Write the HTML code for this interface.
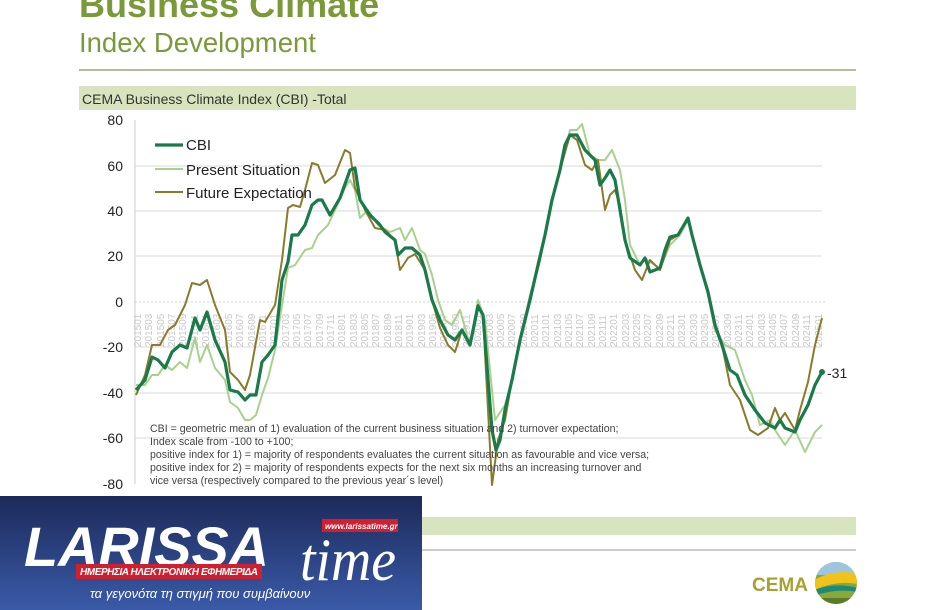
<!DOCTYPE html>
<html><head><meta charset="utf-8"><style>
body{margin:0;width:940px;height:610px;overflow:hidden;background:#fff;font-family:"Liberation Sans",sans-serif;position:relative}
.t1{position:absolute;left:79px;top:-16px;font-size:36px;font-weight:bold;color:#7a9a3a}
.t2{position:absolute;left:79px;top:27px;font-size:27.5px;color:#7a9a3a}
</style></head><body>
<div class="t1">Business Climate</div>
<div class="t2">Index Development</div>
<svg width="940" height="610" style="position:absolute;left:0;top:0">
<line x1="79" y1="70" x2="856" y2="70" stroke="#b5bd9a" stroke-width="2"/>
<rect x="79" y="86" width="777" height="24" fill="#d7e4bd"/>
<text x="82" y="104" font-size="14" fill="#333">CEMA Business Climate Index (CBI) -Total</text>
<rect x="79" y="517" width="777" height="18" fill="#d7e4bd"/>
<line x1="79" y1="550" x2="856" y2="550" stroke="#bbb" stroke-width="1.5"/>
<g stroke="#d9d9d9" stroke-width="1">
<line x1="135" y1="166" x2="822" y2="166"/><line x1="135" y1="211" x2="822" y2="211"/><line x1="135" y1="256" x2="822" y2="256"/><line x1="135" y1="347" x2="822" y2="347"/><line x1="135" y1="393" x2="822" y2="393"/><line x1="135" y1="438" x2="822" y2="438"/>
</g>
<line x1="135" y1="302" x2="825" y2="302" stroke="#ccc" stroke-dasharray="2,2"/>
<line x1="135" y1="120" x2="135" y2="484" stroke="#ccc"/>
<g font-size="14" fill="#222" text-anchor="end">
<text x="123" y="125">80</text><text x="123" y="171">60</text><text x="123" y="216">40</text><text x="123" y="261">20</text><text x="123" y="307">0</text><text x="123" y="352">-20</text><text x="123" y="398">-40</text><text x="123" y="443">-60</text><text x="123" y="489">-80</text>
</g>
<g font-size="10" fill="#c8c8c8">
<text transform="translate(141,347) rotate(-90)">201501</text><text transform="translate(152,347) rotate(-90)">201503</text><text transform="translate(164,347) rotate(-90)">201505</text><text transform="translate(175,347) rotate(-90)">201507</text><text transform="translate(186,347) rotate(-90)">201509</text><text transform="translate(198,347) rotate(-90)">201511</text>
<text transform="translate(209,347) rotate(-90)">201601</text><text transform="translate(220,347) rotate(-90)">201603</text><text transform="translate(232,347) rotate(-90)">201605</text><text transform="translate(243,347) rotate(-90)">201607</text><text transform="translate(255,347) rotate(-90)">201609</text><text transform="translate(266,347) rotate(-90)">201611</text>
<text transform="translate(277,347) rotate(-90)">201701</text><text transform="translate(289,347) rotate(-90)">201703</text><text transform="translate(300,347) rotate(-90)">201705</text><text transform="translate(311,347) rotate(-90)">201707</text><text transform="translate(323,347) rotate(-90)">201709</text><text transform="translate(334,347) rotate(-90)">201711</text>
<text transform="translate(345,347) rotate(-90)">201801</text><text transform="translate(357,347) rotate(-90)">201803</text><text transform="translate(368,347) rotate(-90)">201805</text><text transform="translate(379,347) rotate(-90)">201807</text><text transform="translate(391,347) rotate(-90)">201809</text><text transform="translate(402,347) rotate(-90)">201811</text>
<text transform="translate(413,347) rotate(-90)">201901</text><text transform="translate(425,347) rotate(-90)">201903</text><text transform="translate(436,347) rotate(-90)">201905</text><text transform="translate(447,347) rotate(-90)">201907</text><text transform="translate(459,347) rotate(-90)">201909</text><text transform="translate(470,347) rotate(-90)">201911</text>
<text transform="translate(481,347) rotate(-90)">202001</text><text transform="translate(493,347) rotate(-90)">202003</text><text transform="translate(504,347) rotate(-90)">202005</text><text transform="translate(515,347) rotate(-90)">202007</text><text transform="translate(527,347) rotate(-90)">202009</text><text transform="translate(538,347) rotate(-90)">202011</text>
<text transform="translate(549,347) rotate(-90)">202101</text><text transform="translate(561,347) rotate(-90)">202103</text><text transform="translate(572,347) rotate(-90)">202105</text><text transform="translate(583,347) rotate(-90)">202107</text><text transform="translate(595,347) rotate(-90)">202109</text><text transform="translate(606,347) rotate(-90)">202111</text>
<text transform="translate(617,347) rotate(-90)">202201</text><text transform="translate(629,347) rotate(-90)">202203</text><text transform="translate(640,347) rotate(-90)">202205</text><text transform="translate(651,347) rotate(-90)">202207</text><text transform="translate(663,347) rotate(-90)">202209</text><text transform="translate(674,347) rotate(-90)">202211</text>
<text transform="translate(685,347) rotate(-90)">202301</text><text transform="translate(697,347) rotate(-90)">202303</text><text transform="translate(708,347) rotate(-90)">202305</text><text transform="translate(719,347) rotate(-90)">202307</text><text transform="translate(731,347) rotate(-90)">202309</text><text transform="translate(742,347) rotate(-90)">202311</text>
<text transform="translate(753,347) rotate(-90)">202401</text><text transform="translate(765,347) rotate(-90)">202403</text><text transform="translate(776,347) rotate(-90)">202405</text><text transform="translate(787,347) rotate(-90)">202407</text><text transform="translate(799,347) rotate(-90)">202409</text><text transform="translate(810,347) rotate(-90)">202411</text>
<text transform="translate(822,347) rotate(-90)">202501</text>
</g>
<g fill="none" stroke-linejoin="round">
<polyline stroke="#a9d18e" stroke-width="2" points="136,385 145,385 152,375 158,375 165,365 172,370 180,362 187,368 195,338 200,362 207,345 215,368 225,380 230,402 238,408 245,420 250,420 256,415 262,395 268,378 275,350 282,305 288,268 295,265 305,250 312,248 318,235 328,225 335,210 345,188 350,180 355,190 360,218 368,210 378,225 390,232 400,228 405,240 412,228 420,250 425,254 432,275 438,300 445,320 452,325 460,310 470,345 478,300 485,320 495,420 505,405 512,380 520,340 530,295 540,260 550,210 560,170 570,130 577,130 582,124 590,155 598,160 605,160 612,150 620,170 625,200 630,245 640,265 645,258 650,262 660,268 670,245 680,235 688,220 695,245 700,265 708,295 715,330 725,345 735,350 745,380 752,395 760,425 770,420 775,430 785,445 795,430 805,452 815,432 822,425"/>
<polyline stroke="#8a7a2c" stroke-width="2" points="136,395 145,375 152,345 160,345 168,330 175,325 185,305 192,283 200,285 207,280 215,305 225,330 230,372 238,380 245,390 250,375 260,320 265,322 275,305 282,260 288,208 293,205 300,207 305,190 312,163 318,165 325,183 335,175 345,150 350,153 355,188 365,210 375,228 385,230 395,240 400,270 408,258 415,254 425,270 432,300 440,328 448,345 455,352 462,330 470,345 478,305 483,315 492,485 498,440 505,420 512,380 520,340 525,320 530,300 540,260 550,210 560,170 570,135 577,140 585,165 592,170 598,160 605,210 610,195 615,190 620,205 625,240 635,270 642,280 650,260 660,270 670,240 678,235 688,218 692,235 700,265 708,292 715,325 722,345 730,385 740,400 750,430 758,435 768,428 775,408 780,420 785,413 795,430 800,410 808,382 815,345 822,318"/>
<polyline stroke="#1a7a4a" stroke-width="3.2" points="136,390 145,380 152,357 158,360 165,368 172,352 180,345 187,348 195,318 200,330 207,312 215,340 225,362 230,390 238,392 245,400 250,395 256,395 262,362 268,355 275,345 282,280 288,262 292,235 298,235 305,225 312,205 318,200 322,200 330,215 340,198 350,170 355,168 360,200 370,215 380,225 385,232 395,240 398,255 405,248 412,248 420,255 425,270 432,300 440,320 448,335 455,340 462,330 470,345 478,306 483,315 492,430 496,450 500,440 505,410 512,380 520,340 525,320 530,300 538,265 545,235 552,200 560,170 565,145 570,135 577,135 585,150 595,160 600,185 605,178 610,170 615,180 620,210 625,240 630,258 640,265 645,258 650,272 660,268 665,250 670,237 678,235 688,218 692,235 700,265 708,292 715,325 722,345 730,370 737,375 745,395 755,410 765,423 775,428 780,420 785,428 795,432 800,420 808,405 815,385 822,372"/>
</g>
<circle cx="822" cy="372" r="3" fill="#1a7a4a"/>
<text x="827" y="378" font-size="14" fill="#222">-31</text>
<line x1="155" y1="145" x2="183" y2="145" stroke="#1a7a4a" stroke-width="3.2"/>
<line x1="155" y1="169" x2="183" y2="169" stroke="#a9d18e" stroke-width="2"/>
<line x1="155" y1="192" x2="183" y2="192" stroke="#8a7a2c" stroke-width="2"/>
<g font-size="15" fill="#222"><text x="186" y="150">CBI</text><text x="186" y="175">Present Situation</text><text x="186" y="198">Future Expectation</text></g>
<g font-size="10.6" fill="#444">
<text x="150" y="432">CBI = geometric mean of 1) evaluation of the current business situation and 2) turnover expectation;</text>
<text x="150" y="445">Index scale from -100 to +100;</text>
<text x="150" y="458">positive index for 1) = majority of respondents evaluates the current situation as favourable and vice versa;</text>
<text x="150" y="471">positive index for 2) = majority of respondents expects for the next six months an increasing turnover and</text>
<text x="150" y="484">vice versa (respectively compared to the previous year´s level)</text>
</g>
<text x="752" y="591" font-size="19" font-weight="bold" fill="#a9a033">CEMA</text>
<defs><clipPath id="cl"><circle cx="836" cy="583" r="21"/></clipPath></defs>
<g clip-path="url(#cl)">
<rect x="814" y="561" width="44" height="44" fill="#8aa83a"/>
<rect x="814" y="561" width="44" height="14" fill="#9cc6e0"/>
<path d="M814 580 Q836 568 858 574 L858 584 Q836 580 814 590Z" fill="#f1c21b"/>
<path d="M814 590 Q836 582 858 588 L858 592 Q836 588 814 596Z" fill="#1a8a7a"/>
<rect x="814" y="598" width="44" height="8" fill="#5a7a2a"/>
</g>
<defs><linearGradient id="bg" x1="0" y1="0" x2="0" y2="1"><stop offset="0" stop-color="#1c2a5a"/><stop offset="1" stop-color="#3a5aa8"/></linearGradient></defs>
<rect x="0" y="496" width="422" height="114" fill="url(#bg)"/>
<text x="24" y="566" font-size="56" font-weight="bold" font-style="italic" fill="#fff" textLength="245" lengthAdjust="spacingAndGlyphs">LARISSA</text>
<text x="300" y="580" font-size="60" font-style="italic" fill="#fff" font-family="Liberation Serif" textLength="96" lengthAdjust="spacingAndGlyphs">time</text>
<rect x="322" y="519" width="76" height="13" fill="#d02030"/>
<text x="325" y="529" font-size="8" font-weight="bold" font-style="italic" fill="#fff">www.larissatime.gr</text>
<rect x="76" y="564" width="186" height="15" fill="#d02030"/>
<text x="80" y="575" font-size="10" font-weight="bold" font-style="italic" fill="#fff" textLength="178">ΗΜΕΡΗΣΙΑ ΗΛΕΚΤΡΟΝΙΚΗ ΕΦΗΜΕΡΙΔΑ</text>
<text x="90" y="598" font-size="13" font-style="italic" fill="#fff">τα γεγονότα τη στιγμή που συμβαίνουν</text>
</svg>
</body></html>
